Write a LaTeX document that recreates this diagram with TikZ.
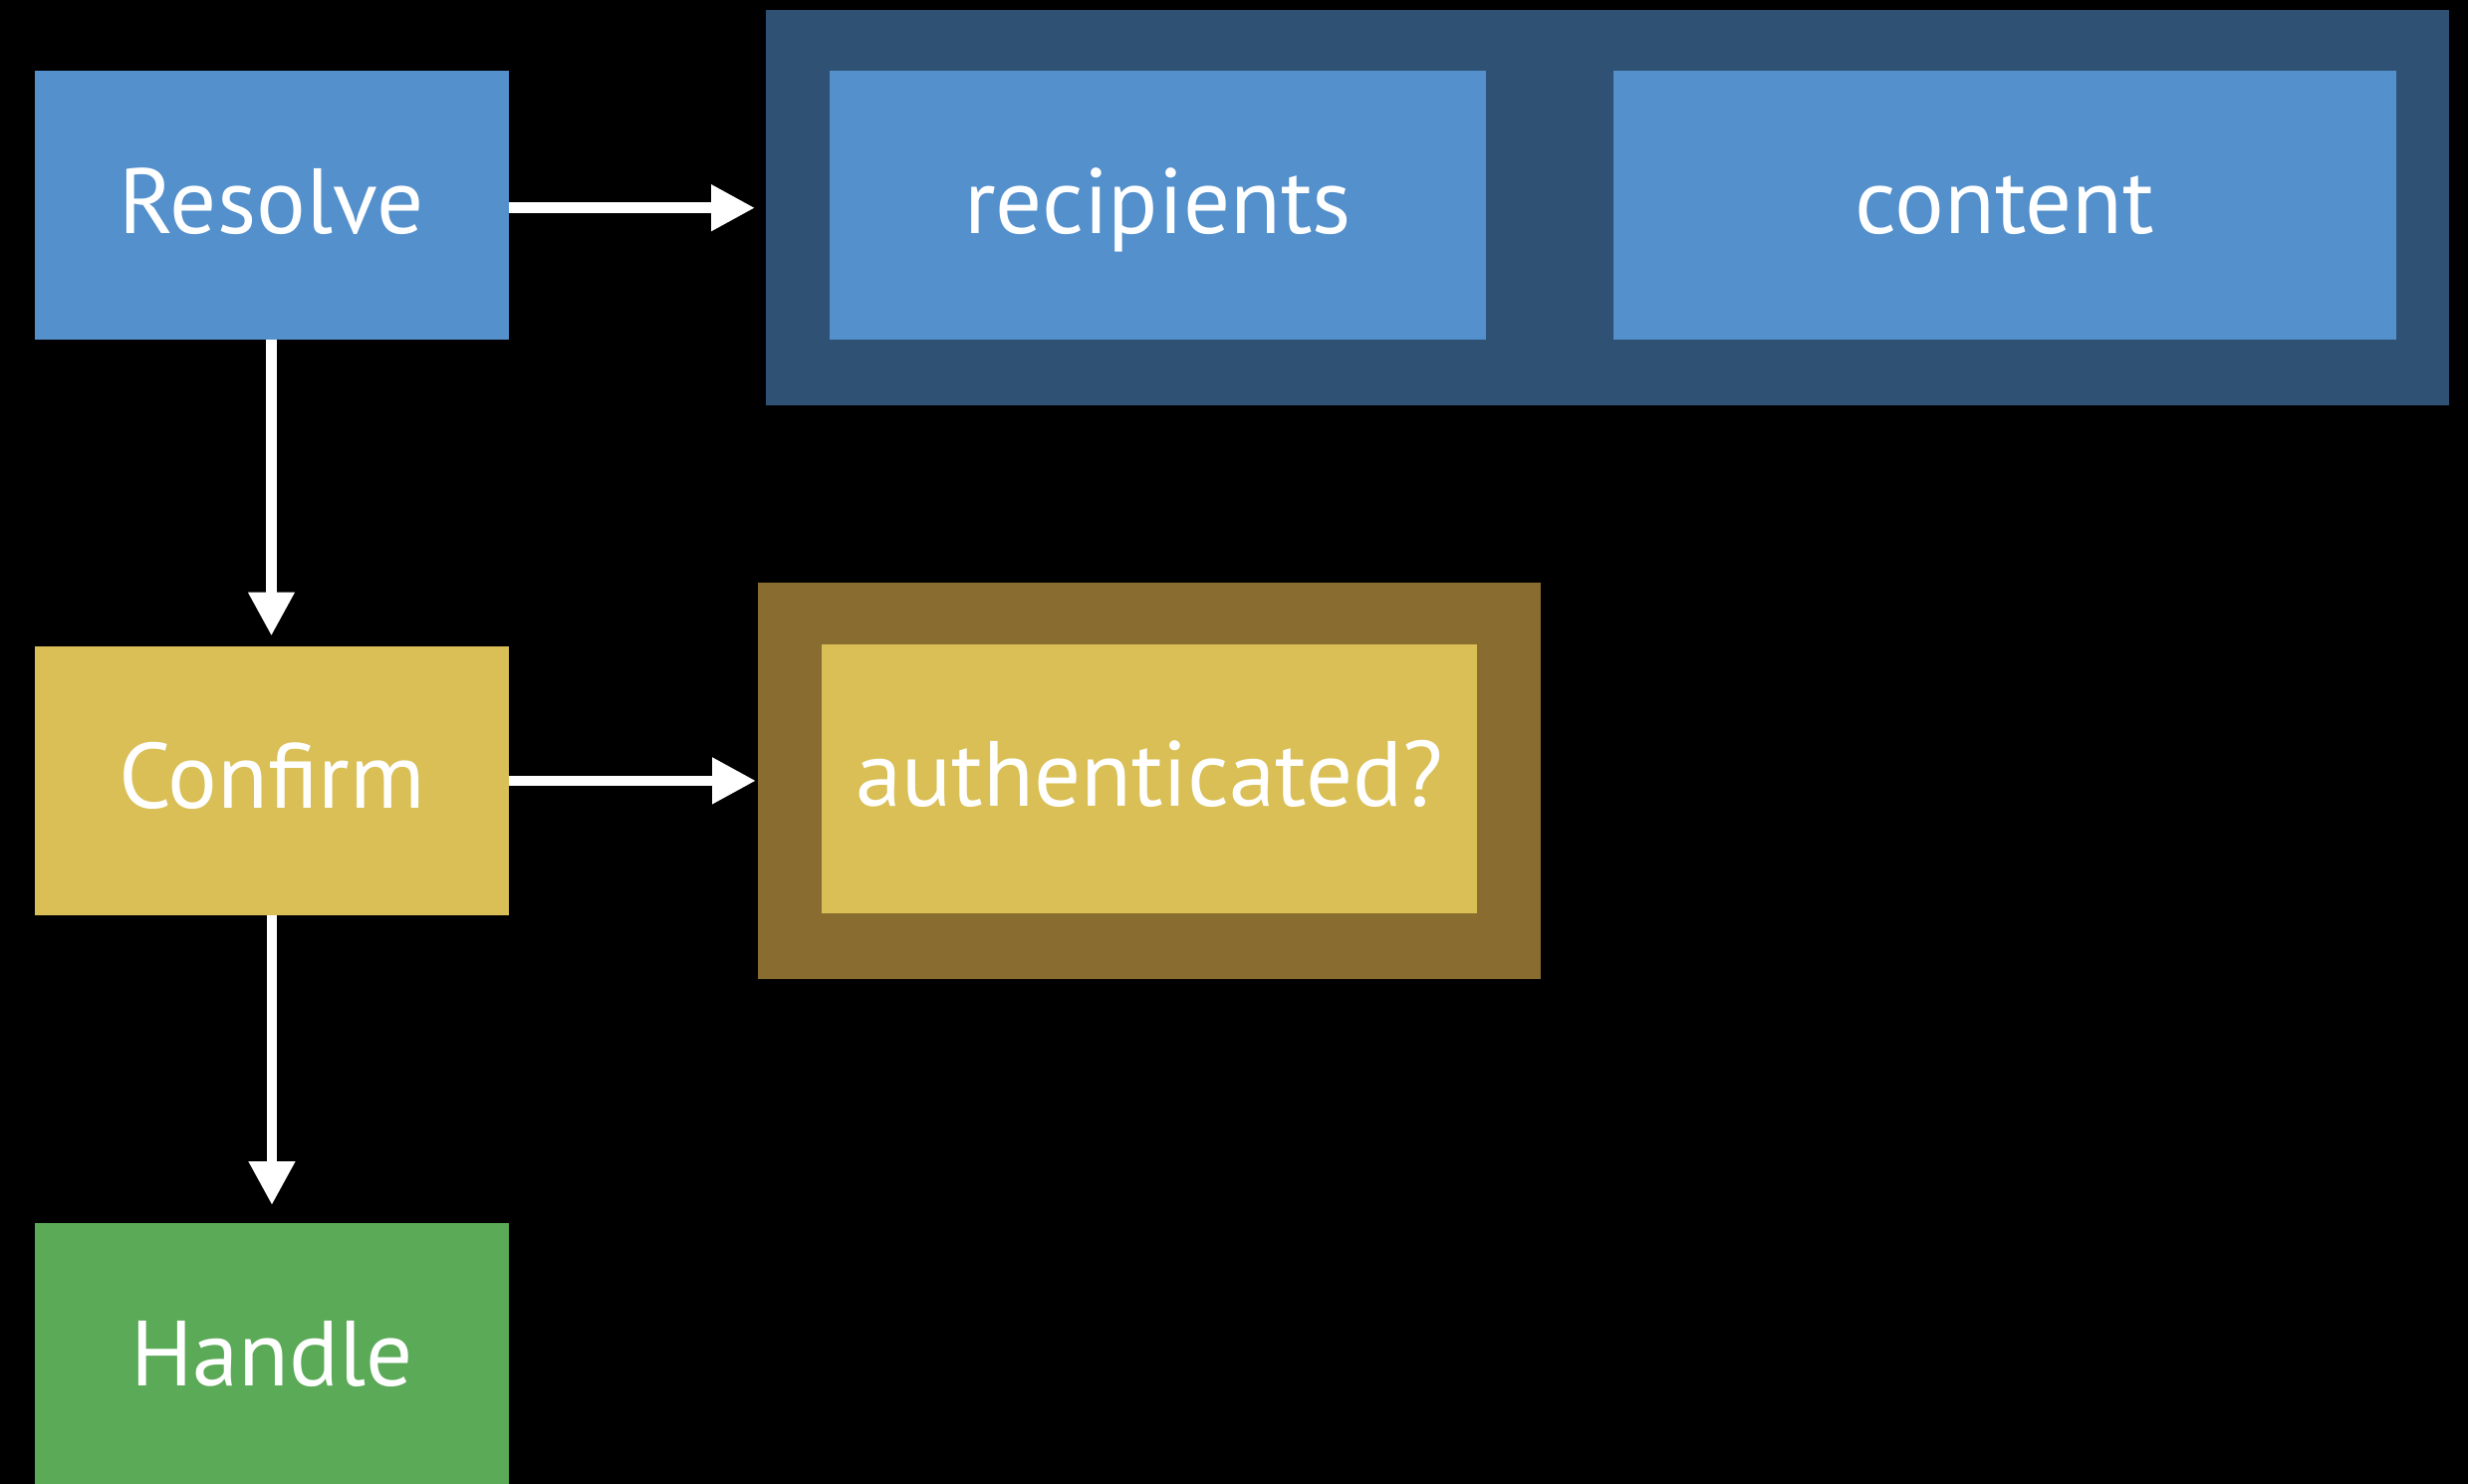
\documentclass[tikz,border=0pt]{standalone}
\usepackage{fontspec}
\setmainfont{PT Sans}
\usetikzlibrary{arrows.meta}

\definecolor{stageblue}{HTML}{5390CC}
\definecolor{groupblue}{HTML}{2F5274}
\definecolor{stagegold}{HTML}{D9BF55}
\definecolor{groupgold}{HTML}{896C30}
\definecolor{stagegreen}{HTML}{5BAA57}

\tikzset{
  stagebox/.style={rectangle, inner sep=0pt, outer sep=0pt,
    minimum width=476pt, minimum height=270pt,
    text=white, font=\fontsize{93}{100}\selectfont,
    text height=56pt, text depth=0pt},
  groupbox/.style={rectangle, inner sep=0pt, outer sep=0pt},
  flow/.style={draw=white, line width=10.7pt,
    -{Triangle[length=44pt, width=44pt]}},
}

\begin{document}
\begin{tikzpicture}[x=1pt, y=-1pt]
  % canvas
  \fill[black] (0,0) rectangle (2478,1490);
  \useasboundingbox (0,0) rectangle (2478,1490);

  % left column of stages
  \node[stagebox, fill=stageblue]  (resolve) at (272.5,206)  {Resolve};
  \node[stagebox, fill=stagegold]  (confirm) at (273,783.5)  {Confirm};
  \node[stagebox, fill=stagegreen] (handle)  at (273,1363)   {Handle};

  % resolve group
  \node[groupbox, fill=groupblue, minimum width=1690pt, minimum height=397pt]
    (resolvegroup) at (1614,208.7) {};
  \node[stagebox, fill=stageblue, minimum width=659pt] (recipients)
    at (1162.5,206) {recipients};
  \node[stagebox, fill=stageblue, minimum width=786pt] (content)
    at (2012.8,206) {content};

  % confirm group
  \node[groupbox, fill=groupgold, minimum width=786pt, minimum height=398pt]
    (confirmgroup) at (1154,783.9) {};
  \node[stagebox, fill=stagegold, minimum width=658.5pt] (auth)
    at (1154.2,781.9) {authenticated?};

  % connectors
  \draw[flow, shorten >=11pt] (resolve.east |- resolvegroup.west) -- (resolvegroup.west);
  \draw[flow, shorten >=2pt]  (confirm.east |- confirmgroup.west) -- (confirmgroup.west);
  \draw[flow, shorten >=10pt] (resolve.south) -- (resolve.south |- confirm.north);
  \draw[flow, shorten >=18pt] (confirm.south) -- (confirm.south |- handle.north);
\end{tikzpicture}
\end{document}
